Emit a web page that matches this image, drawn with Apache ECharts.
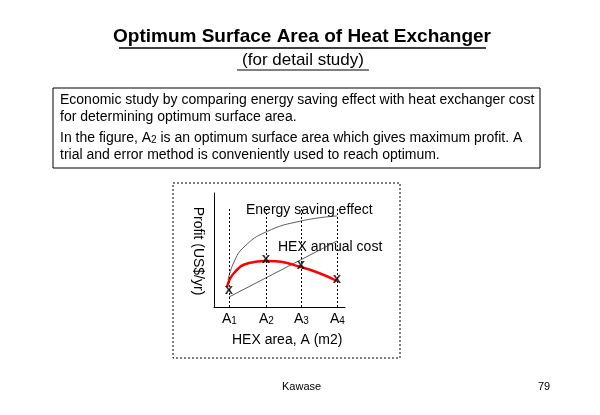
<!DOCTYPE html>
<html>
<head>
<meta charset="utf-8">
<script src="https://cdn.jsdelivr.net/npm/echarts@6/dist/echarts.min.js"></script>
<style>html,body{margin:0;padding:0;background:#fff}#c{width:600px;height:415px}</style>
</head>
<body>
<div id="c"></div>
<script>
// positions of A1..A4 on the area axis
const areaTicks = [15, 52, 87, 123]
const areaLabels = ['1', '2', '3', '4']
const energyX = [14, 20, 30, 52, 87, 123]
const energyY = [27, 45, 60, 75, 86, 91]
const costX = [15, 123]
const costY = [10, 66]
const profitX = [13, 20, 35, 52, 87, 123]
const profitY = [20, 34, 44, 46, 40, 26]
const markY = [15, 46, 40, 26]

const chart = echarts.init(document.getElementById('c'))
const font = 'Liberation Sans, Arial, sans-serif'
const zip = (xs, ys) => xs.map((x, i) => [x, ys[i]])

function txt(x, y, t, size, extra) {
  return Object.assign({ type: 'text', x: x, y: y, style: { text: t, font: size + 'px ' + font, fill: '#000' } }, extra || {})
}

const graphics = [
  { type: 'text', x: 302, y: 37, style: { text: 'Optimum Surface Area of Heat Exchanger', font: 'bold 19px ' + font, fill: '#000', align: 'center', verticalAlign: 'middle' } },
  { type: 'line', shape: { x1: 119, y1: 48, x2: 486, y2: 48 }, style: { stroke: '#000', lineWidth: 1.5 } },
  { type: 'text', x: 303, y: 60, style: { text: '(for detail study)', font: '17px ' + font, fill: '#000', align: 'center', verticalAlign: 'middle' } },
  { type: 'line', shape: { x1: 237, y1: 70, x2: 369, y2: 70 }, style: { stroke: '#000', lineWidth: 1 } },
  { type: 'rect', shape: { x: 53, y: 88, width: 487, height: 80 }, style: { fill: 'none', stroke: '#000', lineWidth: 1 } },
  txt(60, 93, 'Economic study by comparing energy saving effect with heat exchanger cost', 14),
  txt(60, 110, 'for determining optimum surface area.', 14),
  {
    type: 'text', x: 60, y: 131,
    style: {
      text: 'In the figure, A{s|2} is an optimum surface area which gives maximum profit. A',
      font: '14px ' + font, fill: '#000',
      rich: { s: { fontSize: 10, fontFamily: font, padding: [4, 0, 0, 0] } }
    }
  },
  txt(60, 148, 'trial and error method is conveniently used to reach optimum.', 14),
  { type: 'rect', shape: { x: 173, y: 183, width: 227, height: 175 }, style: { fill: 'none', stroke: '#000', lineWidth: 1, lineDash: [2, 2] } },
  txt(246, 203, 'Energy saving effect', 14),
  txt(278, 240, 'HEX annual cost', 14),
  txt(232, 333, 'HEX area, A (m2)', 14),
  { type: 'text', x: 198, y: 251, rotation: -Math.PI / 2, style: { text: 'Profit (US$/yr)', font: '14px ' + font, fill: '#000', align: 'center', verticalAlign: 'middle' } },
  txt(282, 381, 'Kawase', 11),
  txt(538, 381, '79', 11)
]
areaTicks.forEach((a, i) => {
  graphics.push({
    type: 'text', x: 214 + a - 7, y: 312,
    style: { text: 'A{s|' + areaLabels[i] + '}', font: '14px ' + font, fill: '#000', rich: { s: { fontSize: 10, fontFamily: font, padding: [4, 0, 0, 0] } } }
  })
})

const option = {
  animation: false,
  grid: { left: 214, top: 193, width: 131, height: 114 },
  xAxis: { type: 'value', min: 0, max: 131, axisLabel: { show: false }, axisTick: { show: false }, splitLine: { show: false }, axisLine: { lineStyle: { color: '#000' } } },
  yAxis: { type: 'value', min: 0, max: 114, axisLabel: { show: false }, axisTick: { show: false }, splitLine: { show: false }, axisLine: { lineStyle: { color: '#000' } } },
  series: [
    {
      type: 'line', data: zip(energyX, energyY), smooth: 0.5, symbol: 'none',
      lineStyle: { color: '#333', width: 0.8 },
      markLine: {
        silent: true, symbol: 'none', label: { show: false },
        lineStyle: { color: '#000', type: [2, 2], width: 1 },
        data: areaTicks.map(a => [{ coord: [a, 0] }, { coord: [a, 100] }])
      }
    },
    { type: 'line', data: zip(costX, costY), symbol: 'none', lineStyle: { color: '#333', width: 0.8 } },
    { type: 'line', data: zip(profitX, profitY), smooth: 0.5, symbol: 'none', lineStyle: { color: '#f00', width: 2.5 } },
    {
      type: 'scatter', data: zip(areaTicks, markY), symbolSize: 0, z: 5,
      label: { show: true, position: 'inside', formatter: 'x', fontSize: 15, fontWeight: 'bold', fontFamily: font, color: '#000', offset: [0, -2] }
    }
  ],
  graphic: graphics
}
chart.setOption(option)
</script>
</body>
</html>
